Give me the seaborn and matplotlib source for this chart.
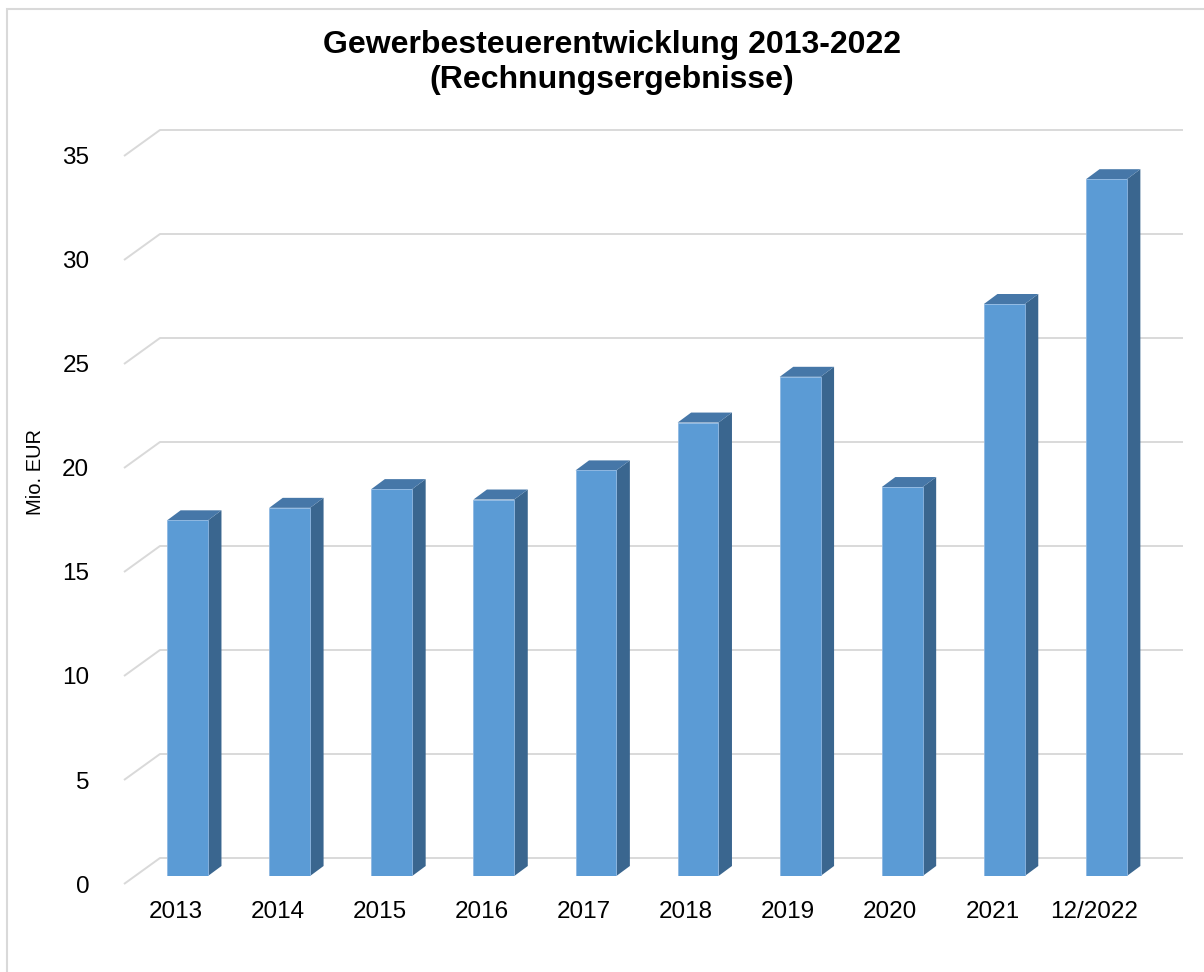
import matplotlib
matplotlib.use("Agg")
import numpy as np
import pandas as pd
import matplotlib.pyplot as plt
import seaborn as sns
from matplotlib.patches import Polygon, Rectangle
from matplotlib.transforms import ScaledTranslation

# data (Mio. EUR)
years = ["2013", "2014", "2015", "2016", "2017", "2018", "2019", "2020", "2021", "12/2022"]
revenue = [17.1, 17.7, 18.6, 18.1, 19.5, 21.8, 24.0, 18.7, 27.5, 33.5]
yticks = [0, 5, 10, 15, 20, 25, 30, 35]

sns.set_theme(style="white")
plt.rcParams["font.family"] = ["Liberation Sans", "DejaVu Sans"]

W, H = 1204, 972
fig = plt.figure(figsize=(W / 100, H / 100), dpi=100)
ax_px = [136.5, 96, 1021, 728]  # left, bottom, width, height in pixels
ax = fig.add_axes([ax_px[0] / W, ax_px[1] / H, ax_px[2] / W, ax_px[3] / H])

df = pd.DataFrame({"Jahr": years, "Mio": revenue})
sns.barplot(data=df, x="Jahr", y="Mio", color="#5B9BD5", saturation=1,
            width=0.4, edgecolor="#8FB8E2", linewidth=0.6, ax=ax, zorder=3)
ax.set_xlim(-0.5, len(years) - 0.5)
ax.set_ylim(0, 35)

# pixels per data unit, used for the fake 3D depth
px_x = ax_px[2] / len(years)
px_y = ax_px[3] / 35
dxd, dyd = 13.5 / px_x, 10 / px_y

for p in ax.patches:
    x0 = p.get_x()
    x1 = x0 + p.get_width()
    h = p.get_height()
    side = Polygon([(x1, 0), (x1, h), (x1 + dxd, h + dyd), (x1 + dxd, dyd)],
                   closed=True, facecolor="#3A668F", edgecolor="none",
                   clip_on=False, zorder=2.5)
    top = Polygon([(x0, h), (x1, h), (x1 + dxd, h + dyd), (x0 + dxd, h + dyd)],
                  closed=True, facecolor="#4677A8", edgecolor="none",
                  clip_on=False, zorder=2.6)
    ax.add_patch(side)
    ax.add_patch(top)

# back wall gridlines with the slanted side-wall part
xl, xr = -0.5, len(years) - 0.5
for v in yticks:
    xs = [xl - 12.5 / px_x, xl + 23.5 / px_x, xr + 25.5 / px_x]
    ys = [v - 8 / px_y, v + 18 / px_y, v + 18 / px_y]
    ax.plot(xs, ys, color="#D9D9D9", lw=1.4, clip_on=False, zorder=0,
            solid_capstyle="butt")

ax.set_yticks(yticks)
ax.set_yticklabels([str(v) for v in yticks])
ax.tick_params(axis="y", length=0, pad=34, labelsize=17.5, labelcolor="black")
ax.tick_params(axis="x", length=0, pad=18, labelsize=17.5, labelcolor="black")
for lab in ax.get_yticklabels():
    lab.set_transform(lab.get_transform() + ScaledTranslation(0, -8 / 100, fig.dpi_scale_trans))
for lab in ax.get_xticklabels():
    lab.set_transform(lab.get_transform() + ScaledTranslation(-12 / 100, 0, fig.dpi_scale_trans))

ax.set_xlabel("")
ax.set_ylabel("")
for s in ax.spines.values():
    s.set_visible(False)
ax.grid(False)

fig.text(35.5 / W, 1 - 472 / H, "Mio. EUR", rotation=90, ha="center", va="center",
         fontsize=14.5, color="black")
fig.text(612 / W, 1 - 45 / H, "Gewerbesteuerentwicklung 2013-2022", ha="center",
         va="center", fontsize=23, fontweight="bold", color="black")
fig.text(612 / W, 1 - 80 / H, "(Rechnungsergebnisse)", ha="center",
         va="center", fontsize=23, fontweight="bold", color="black")

# chart area border (only left and top edges visible in the reference)
fig.patches.append(Rectangle((6.5 / W, -0.05), 1.1, 1 - 9.5 / H + 0.05,
                             transform=fig.transFigure, fill=False,
                             edgecolor="#D9D9D9", lw=1.5))

fig.savefig("out.png", dpi=100)
